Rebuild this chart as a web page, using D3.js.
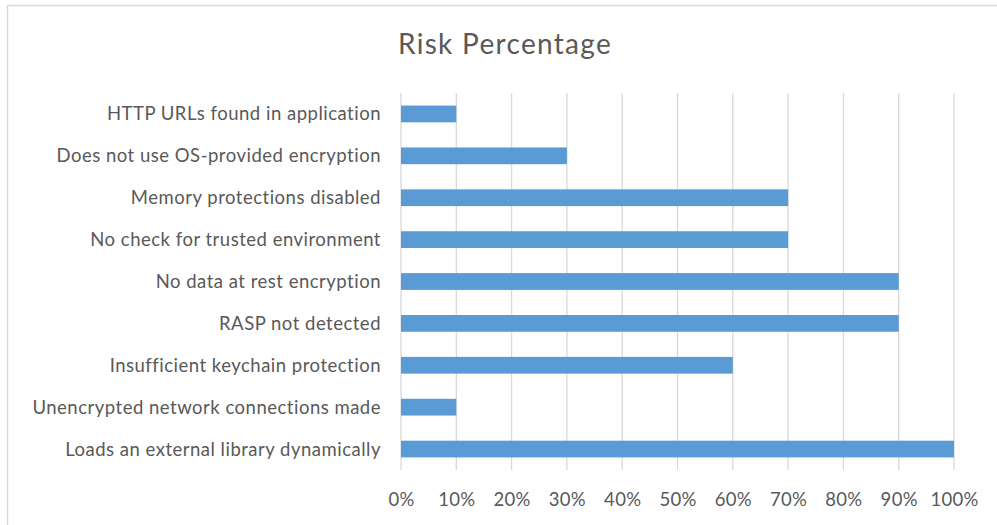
<!DOCTYPE html>
<html><head><meta charset="utf-8">
<script src="https://cdn.jsdelivr.net/npm/d3@7"></script>
<style>body{margin:0;background:#fff}svg{display:block}</style>
</head><body><svg id="c" width="997" height="525"></svg>
<script>
const title = "Risk Percentage";
const categories = [
  "HTTP URLs found in application",
  "Does not use OS-provided encryption",
  "Memory protections disabled",
  "No check for trusted environment",
  "No data at rest encryption",
  "RASP not detected",
  "Insufficient keychain protection",
  "Unencrypted network connections made",
  "Loads an external library dynamically"
];
const values = [0.10, 0.30, 0.70, 0.70, 0.90, 0.90, 0.60, 0.10, 1.00];
const tickValues = [0,0.1,0.2,0.3,0.4,0.5,0.6,0.7,0.8,0.9,1.0];

(function(){
const svg = d3.select("#c");
const font = "Lato, 'Open Sans', sans-serif";
const textColor = "#595959";

svg.append("rect").attr("x",7.5).attr("y",5.5).attr("width",1100).attr("height",600)
  .attr("fill","#fff").attr("stroke","#d9d9d9").attr("stroke-width",1.5);

const pL = 401, pR = 954, pT = 93, pB = 470;
const x = d3.scaleLinear().domain([0,1]).range([pL,pR]);
const y = d3.scaleBand().domain(categories).range([pT,pB]).paddingInner(0.6).paddingOuter(0.3);

svg.append("g").selectAll("line").data(tickValues).join("line")
  .attr("x1",d=>x(d)).attr("x2",d=>x(d)).attr("y1",pT).attr("y2",pB)
  .attr("stroke","#d9d9d9").attr("stroke-width",1.3);

svg.append("g").selectAll("rect").data(values).join("rect")
  .attr("x",x(0)).attr("y",(d,i)=>y(categories[i]))
  .attr("width",d=>x(d)-x(0)).attr("height",y.bandwidth())
  .attr("fill","#5b9bd5");

const xAxis = d3.axisBottom(x).tickValues(tickValues).tickFormat(d3.format(".0%")).tickSize(0).tickPadding(0);
const gx = svg.append("g").attr("transform",`translate(0,${pB})`).call(xAxis);
gx.select(".domain").remove();
gx.selectAll("text").attr("y",36).attr("dy",0).attr("fill",textColor)
  .style("font-family",font).style("font-size","18.5px").style("letter-spacing","0.3px");

const yAxis = d3.axisLeft(y).tickSize(0).tickPadding(0);
const gy = svg.append("g").attr("transform",`translate(381,0)`).call(yAxis);
gy.select(".domain").remove();
gy.selectAll("text").attr("dy","0.35em").attr("fill",textColor)
  .style("font-family",font).style("font-size","18.5px").style("letter-spacing","0.5px");

svg.append("text").attr("x",505).attr("y",54).attr("text-anchor","middle")
  .attr("fill",textColor).style("font-family",font).style("font-size","28px")
  .style("letter-spacing","1.3px").text(title);
})();
</script></body></html>
